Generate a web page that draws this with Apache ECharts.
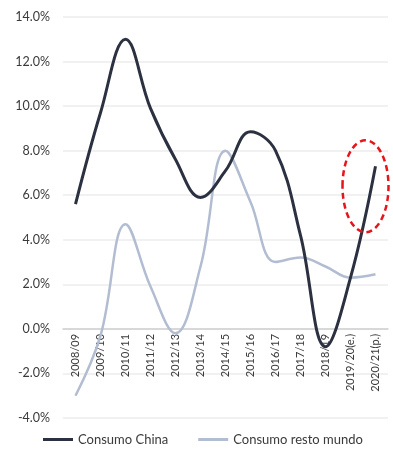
<!DOCTYPE html>
<html>
<head>
<meta charset="utf-8">
<script src="https://cdn.jsdelivr.net/npm/echarts@6/dist/echarts.min.js"></script>
<style>
  html, body { margin: 0; padding: 0; background: #ffffff; }
  #chart { width: 393px; height: 455px; }
</style>
</head>
<body>
<div id="chart"></div>
<script>
// Campaign years (e. = estimate, p. = projection)
var campaigns = ['2008/09', '2009/10', '2010/11', '2011/12', '2012/13', '2013/14', '2014/15',
                 '2015/16', '2016/17', '2017/18', '2018/19', '2019/20(e.)', '2020/21(p.)'];

// Year-on-year consumption growth, %
var consumoChina = [5.6, 9.7, 13.0, 9.9, 7.6, 5.9, 7.1, 8.85, 8.0, 4.2, -0.8, 2.3, 7.3];
var consumoResto = [-3.0, -0.3, 4.7, 1.9, -0.2, 2.8, 8.0, 5.7, 3.0, 3.2, 2.8, 2.3, 2.45];

// Value axis ticks
var yTicks = [-4, -2, 0, 2, 4, 6, 8, 10, 12, 14];

var chart = echarts.init(document.getElementById('chart'), null, { renderer: 'canvas' });

var option = {
  animation: false,
  backgroundColor: '#ffffff',
  grid: { left: 63, right: 5, top: 17, bottom: 37, containLabel: false, outerBoundsMode: 'none' },
  legend: {
    bottom: 4,
    left: 38,
    itemGap: 30,
    itemWidth: 30,
    itemHeight: 3,
    textStyle: { color: '#3a3a3a', fontSize: 13, fontFamily: 'Lato, sans-serif' },
    data: [
      { name: 'Consumo China', icon: 'rect', itemStyle: { color: '#2b3140' } },
      { name: 'Consumo resto mundo', icon: 'rect', itemStyle: { color: '#b3bdd2' } }
    ]
  },
  xAxis: {
    type: 'category',
    data: campaigns,
    boundaryGap: true,
    position: 'bottom',
    offset: 0,
    axisLine: { onZero: false, lineStyle: { color: '#d0d0d0', width: 1.5 } },
    axisTick: { show: false },
    axisLabel: {
      rotate: 90,
      interval: 0,
      margin: 5,
      color: '#3a3a3a',
      fontSize: 11,
      fontFamily: 'Lato, sans-serif'
    }
  },
  yAxis: {
    type: 'value',
    min: yTicks[0],
    max: yTicks[yTicks.length - 1],
    interval: 2,
    axisLine: { show: false },
    axisTick: { show: false },
    splitLine: { lineStyle: { color: '#ececec', width: 1.5 } },
    axisLabel: {
      margin: 13,
      color: '#3a3a3a',
      fontSize: 12.5,
      fontFamily: 'Lato, sans-serif',
      formatter: function (v) { return v.toFixed(1) + '%'; }
    }
  },
  series: [
    {
      name: 'Consumo resto mundo',
      type: 'line',
      data: consumoResto,
      smooth: 0.4,
      showSymbol: false,
      z: 2,
      lineStyle: { color: '#b3bdd2', width: 2.5 },
      itemStyle: { color: '#b3bdd2' }
    },
    {
      name: 'Consumo China',
      type: 'line',
      data: consumoChina,
      smooth: 0.4,
      showSymbol: false,
      z: 3,
      lineStyle: { color: '#2b3140', width: 3 },
      itemStyle: { color: '#2b3140' }
    }
  ]
};

chart.setOption(option);

// Move the category axis up so it sits on the 0% line
var zeroY = chart.convertToPixel({ yAxisIndex: 0 }, 0);
var bottomY = chart.convertToPixel({ yAxisIndex: 0 }, yTicks[0]);

// Dashed red ellipse highlighting the 2020/21 projection
var last = campaigns.length - 1;
var p = chart.convertToPixel({ seriesIndex: 1 }, [last, consumoChina[last]]);
chart.setOption({
  xAxis: { offset: -(bottomY - zeroY) },
  graphic: [{
    type: 'ellipse',
    shape: { cx: p[0] - 10, cy: p[1] + 20, rx: 23, ry: 46 },
    style: { fill: 'none', stroke: '#e8141b', lineWidth: 2.5, lineDash: [6, 4] },
    z: 10
  }]
});
</script>
</body>
</html>
